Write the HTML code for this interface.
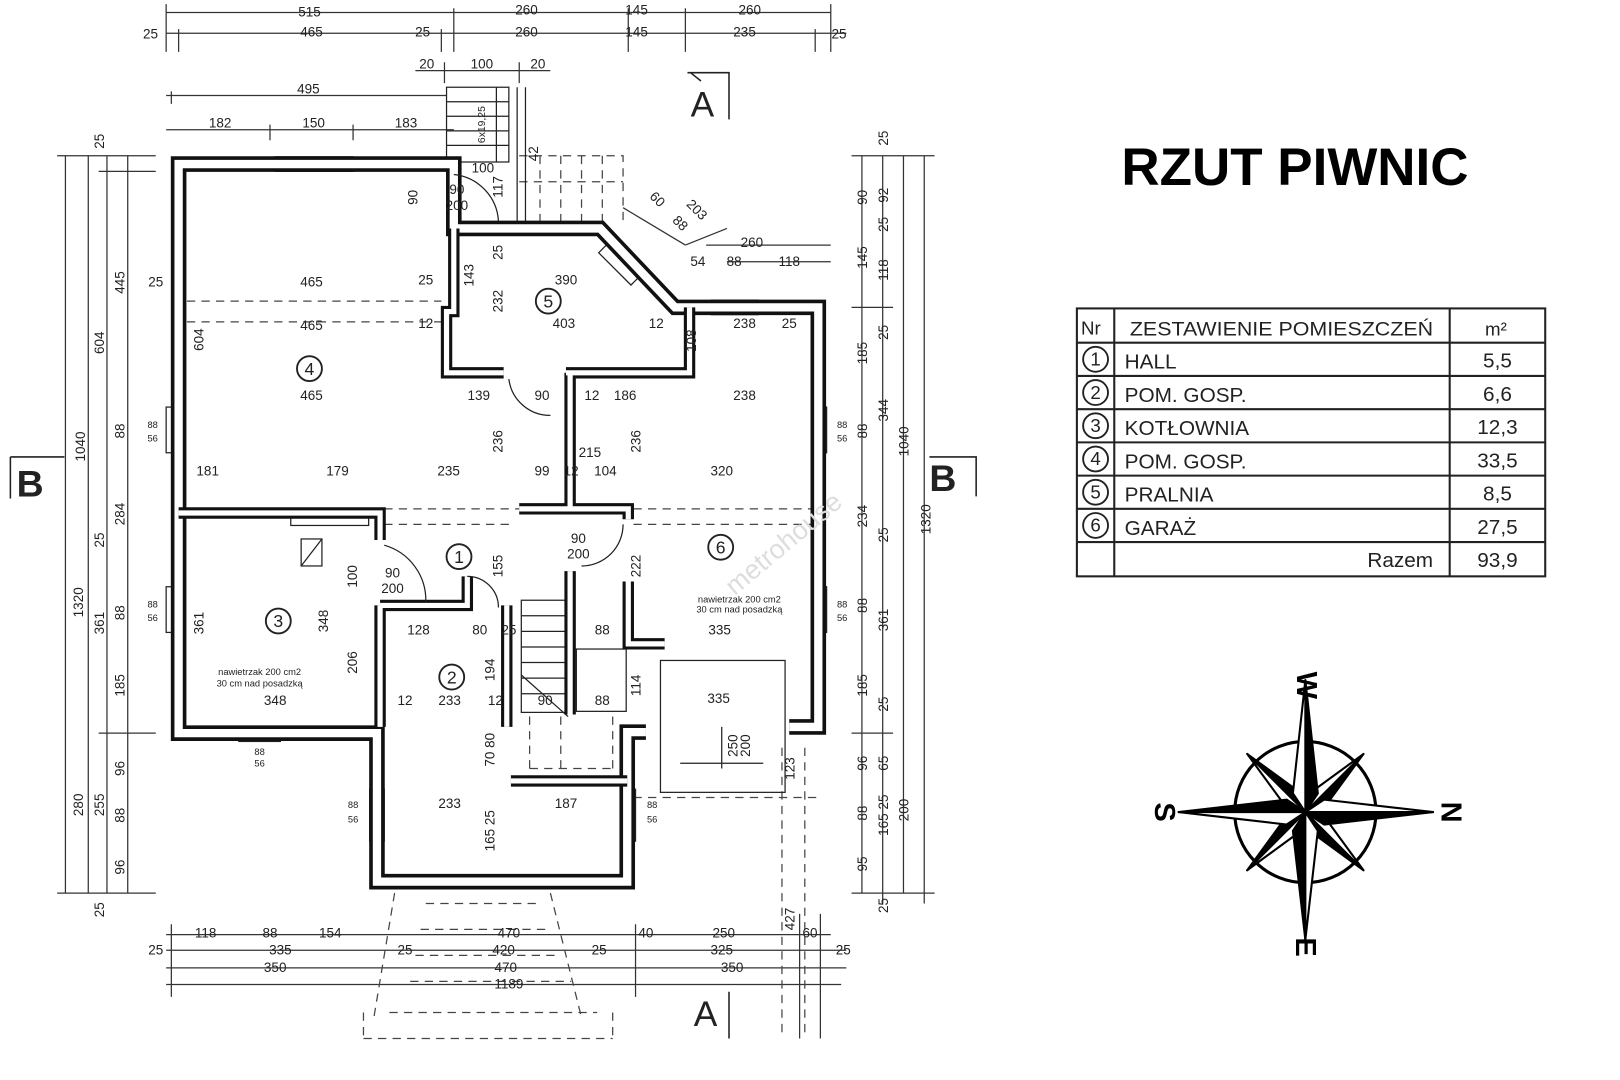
<!DOCTYPE html>
<html><head><meta charset="utf-8"><style>
html,body{margin:0;padding:0;background:#fff;}
svg{display:block;}
text{font-family:"Liberation Sans","DejaVu Sans",sans-serif;fill:#222;}
.d{font-size:13px;}
.s{font-size:9px;}
</style></head><body>
<svg width="1620" height="1080" viewBox="0 0 1560 1040" preserveAspectRatio="none" xmlns="http://www.w3.org/2000/svg">
<rect width="1560" height="1040" fill="#fff"/>
<defs>
<path id="outer" d="M760,700 H788 V296 H650 L578,220 H437 V158 H172 V706 H363 V849 H604 V705 H622"/>
<path id="inner" d="M437,220 V300 H430 V359 H485 M545,359 H664 V296 M549,359 V490 M500,490 H605 V500 M172,494 H366 V520 M366,583 V700 M366,583 H450 V555 M488,583 V700 M549,550 V688 M492,752 H604 M605,560 V620 H640"/>
</defs>
<g stroke="#333" stroke-width="1.2" fill="none">
<path d="M160,12 H800 M160,32 H815 M160,4 V50 M437,8 V50 M605,8 V50 M660,8 V50 M800,4 V50 M172,28 V50 M425,28 V50 M785,28 V50"/>
<path d="M400,68 H530 M428,60 V80 M500,60 V80 M160,92 H430 M160,125 H437 M165,88 V100 M260,120 V135 M340,120 V135"/>
<path d="M63,150 V860 M85,150 V860 M103,150 V860 M123,150 V860 M55,150 H150 M55,860 H150 M95,165 H150 M95,706 H150"/>
<path d="M830,150 V860 M850,150 V870 M870,150 V860 M890,150 V870 M820,150 H900 M820,860 H900 M820,296 H860 M820,706 H860"/>
<path d="M160,900 H800 M160,915 H815 M160,932 H815 M160,948 H810 M165,890 V960 M612,890 V960 M790,880 V1000 M770,880 V1000"/>
<path d="M600,200 L660,236 M660,236 L700,220 M680,236 H800 M700,252 H800" />
</g>
<g stroke="#444" stroke-width="1.2" fill="none" stroke-dasharray="8,6">
<path d="M180,290 H425 M180,310 H425 M370,490 H500 M610,490 H790 M370,505 H490 M610,505 H790 M610,768 H790"/>
<path d="M500,150 H600 V213 M520,150 V213 M540,150 V213 M560,150 V213 M580,150 V213 M500,175 H600"/>
<path d="M410,870 H520 M405,895 H530 M400,920 H540 M395,945 H550 M375,975 H575 M350,1000 H590 M350,975 V1000 M590,975 V1000 M380,860 L360,980 M530,860 L560,980 M753,720 V1000 M775,720 V1000"/>
<path d="M510,690 V740 M540,690 V740 M510,740 H590 M590,690 V740"/>
</g>
<g stroke="#222" stroke-width="1.2" fill="none">
<rect x="430" y="84" width="60" height="72"/>
<path d="M430,98 H490 M430,112 H490 M430,126 H490 M430,140 H490 M478,84 V156 M498,84 V213 M506,84 V213"/>
<rect x="502" y="578" width="45" height="108"/>
<path d="M502,593 H547 M502,608 H547 M502,623 H547 M502,638 H547 M502,653 H547 M502,668 H547 M502,650 L547,690"/>
<rect x="555" y="625" width="48" height="60"/>
<rect x="636" y="636" width="120" height="127"/>
<path d="M655,735 H735 M695,700 V740"/>
<rect x="280" y="492" width="75" height="14"/>
<rect x="290" y="519" width="20" height="26"/>
<path d="M290,545 L310,519"/>
</g>
<g fill="#fff" stroke="#222" stroke-width="1.2">
<rect x="265" y="151" width="75" height="14"/>
<rect x="685" y="289" width="45" height="14"/>
<rect x="160" y="392" width="14" height="44"/>
<rect x="160" y="565" width="14" height="44"/>
<rect x="230" y="700" width="40" height="14"/>
<rect x="782" y="392" width="14" height="44"/>
<rect x="782" y="565" width="14" height="44"/>
<rect x="356" y="760" width="14" height="50"/>
<rect x="598" y="760" width="14" height="50"/>
<rect x="590" y="232" width="14" height="44" transform="rotate(-45 597 254)"/>
</g>
<use href="#outer" fill="none" stroke="#111" stroke-width="15"/>
<use href="#outer" fill="none" stroke="#fff" stroke-width="8"/>
<use href="#inner" fill="none" stroke="#111" stroke-width="11"/>
<use href="#inner" fill="none" stroke="#fff" stroke-width="5"/>
<g stroke="#222" stroke-width="1.2" fill="none">
<path d="M437,168 A48,48 0 0 1 480,213"/>
<path d="M370,525 A55,55 0 0 1 410,580"/>
<path d="M450,555 A30,30 0 0 1 480,585"/>
<path d="M490,365 A40,40 0 0 0 530,400"/>
<path d="M560,545 A40,40 0 0 0 600,505"/>
</g>
<g fill="none" stroke="#222" stroke-width="1.8">
<circle cx="442" cy="536" r="12"/><circle cx="435" cy="652" r="12"/><circle cx="268" cy="598" r="12"/>
<circle cx="298" cy="355" r="12"/><circle cx="528" cy="290" r="12"/><circle cx="694" cy="527" r="12"/>
</g>
<g font-size="17" text-anchor="middle">
<text x="442" y="542">1</text><text x="435" y="658">2</text><text x="268" y="604">3</text>
<text x="298" y="361">4</text><text x="528" y="296">5</text><text x="694" y="533">6</text>
</g>
<g class="d" text-anchor="middle">
<text x="298" y="16">515</text><text x="507" y="14">260</text><text x="613" y="14">145</text><text x="722" y="14">260</text>
<text x="145" y="37">25</text><text x="300" y="35">465</text><text x="407" y="35">25</text><text x="507" y="35">260</text><text x="613" y="35">145</text><text x="717" y="35">235</text><text x="808" y="37">25</text>
<text x="411" y="66">20</text><text x="464" y="66">100</text><text x="518" y="66">20</text>
<text x="297" y="90">495</text><text x="212" y="123">182</text><text x="302" y="123">150</text><text x="391" y="123">183</text>
<text x="465" y="166">100</text><text x="440" y="187">90</text><text x="440" y="202">200</text>
<text x="300" y="276">465</text><text x="300" y="318">465</text><text x="300" y="385">465</text>
<text x="545" y="274">390</text><text x="543" y="316">403</text><text x="410" y="316">12</text><text x="632" y="316">12</text>
<text x="717" y="316">238</text><text x="760" y="316">25</text><text x="724" y="238">260</text><text x="760" y="256">118</text><text x="707" y="256">88</text><text x="672" y="256">54</text>
<text x="461" y="385">139</text><text x="522" y="385">90</text><text x="570" y="385">12</text><text x="602" y="385">186</text><text x="717" y="385">238</text>
<text x="150" y="276">25</text><text x="410" y="274">25</text>
<text x="200" y="458">181</text><text x="325" y="458">179</text><text x="432" y="458">235</text><text x="522" y="458">99</text><text x="550" y="458">12</text><text x="583" y="458">104</text><text x="695" y="458">320</text><text x="568" y="440">215</text>
<text x="378" y="556">90</text><text x="378" y="571">200</text><text x="557" y="523">90</text><text x="557" y="538">200</text>
<text x="403" y="611">128</text><text x="462" y="611">80</text><text x="490" y="611">25</text><text x="580" y="611">88</text><text x="693" y="611">335</text>
<text x="265" y="679">348</text><text x="390" y="679">12</text><text x="433" y="679">233</text><text x="477" y="679">12</text><text x="525" y="679">90</text><text x="580" y="679">88</text><text x="692" y="677">335</text>
<text x="433" y="778">233</text><text x="545" y="778">187</text>
<text x="198" y="903">118</text><text x="260" y="903">88</text><text x="318" y="903">154</text><text x="490" y="903">470</text><text x="622" y="903">40</text><text x="697" y="903">250</text><text x="780" y="903">60</text>
<text x="150" y="919">25</text><text x="270" y="919">335</text><text x="390" y="919">25</text><text x="485" y="919">420</text><text x="577" y="919">25</text><text x="695" y="919">325</text><text x="812" y="919">25</text>
<text x="265" y="936">350</text><text x="487" y="936">470</text><text x="705" y="936">350</text>
<text x="490" y="952">1189</text>
</g>
<g class="s" text-anchor="middle">
<text x="147" y="412">88</text><text x="147" y="425">56</text><text x="147" y="585">88</text><text x="147" y="598">56</text>
<text x="811" y="412">88</text><text x="811" y="425">56</text><text x="811" y="585">88</text><text x="811" y="598">56</text>
<text x="250" y="727">88</text><text x="250" y="738">56</text><text x="340" y="778">88</text><text x="340" y="792">56</text>
<text x="628" y="778">88</text><text x="628" y="792">56</text>
<text x="250" y="650">nawietrzak 200 cm2</text><text x="250" y="661">30 cm nad posadzką</text>
<text x="712" y="580">nawietrzak 200 cm2</text><text x="712" y="590">30 cm nad posadzką</text>
</g>
<g class="d" text-anchor="middle">
<text transform="translate(80,580) rotate(-90)">1320</text>
<text transform="translate(82,430) rotate(-90)">1040</text>
<text transform="translate(100,330) rotate(-90)">604</text>
<text transform="translate(120,272) rotate(-90)">445</text>
<text transform="translate(120,415) rotate(-90)">88</text>
<text transform="translate(120,495) rotate(-90)">284</text>
<text transform="translate(100,520) rotate(-90)">25</text>
<text transform="translate(100,600) rotate(-90)">361</text>
<text transform="translate(120,590) rotate(-90)">88</text>
<text transform="translate(120,660) rotate(-90)">185</text>
<text transform="translate(120,740) rotate(-90)">96</text>
<text transform="translate(100,775) rotate(-90)">255</text>
<text transform="translate(80,775) rotate(-90)">280</text>
<text transform="translate(120,785) rotate(-90)">88</text>
<text transform="translate(120,835) rotate(-90)">96</text>
<text transform="translate(100,876) rotate(-90)">25</text>
<text transform="translate(100,136) rotate(-90)">25</text>
<text transform="translate(196,327) rotate(-90)">604</text>
<text transform="translate(196,600) rotate(-90)">361</text>
<text transform="translate(316,598) rotate(-90)">348</text>
<text transform="translate(344,638) rotate(-90)">206</text>
<text transform="translate(344,555) rotate(-90)">100</text>
<text transform="translate(484,425) rotate(-90)">236</text>
<text transform="translate(484,290) rotate(-90)">232</text>
<text transform="translate(484,243) rotate(-90)">25</text>
<text transform="translate(456,265) rotate(-90)">143</text>
<text transform="translate(402,190) rotate(-90)">90</text>
<text transform="translate(484,180) rotate(-90)">117</text>
<text transform="translate(518,148) rotate(-90)">42</text>
<text transform="translate(484,545) rotate(-90)">155</text>
<text transform="translate(476,645) rotate(-90)">194</text>
<text transform="translate(476,722) rotate(-90)">70 80</text>
<text transform="translate(476,800) rotate(-90)">165 25</text>
<text transform="translate(617,425) rotate(-90)">236</text>
<text transform="translate(617,545) rotate(-90)">222</text>
<text transform="translate(617,660) rotate(-90)">114</text>
<text transform="translate(670,328) rotate(-90)">108</text>
<text transform="translate(765,740) rotate(-90)">123</text>
<text transform="translate(710,718) rotate(-90)">250</text>
<text transform="translate(722,718) rotate(-90)">200</text>
<text transform="translate(835,190) rotate(-90)">90</text>
<text transform="translate(855,188) rotate(-90)">92</text>
<text transform="translate(855,133) rotate(-90)">25</text>
<text transform="translate(855,216) rotate(-90)">25</text>
<text transform="translate(835,248) rotate(-90)">145</text>
<text transform="translate(855,260) rotate(-90)">118</text>
<text transform="translate(855,320) rotate(-90)">25</text>
<text transform="translate(835,340) rotate(-90)">185</text>
<text transform="translate(855,395) rotate(-90)">344</text>
<text transform="translate(875,425) rotate(-90)">1040</text>
<text transform="translate(896,500) rotate(-90)">1320</text>
<text transform="translate(835,415) rotate(-90)">88</text>
<text transform="translate(835,497) rotate(-90)">234</text>
<text transform="translate(855,515) rotate(-90)">25</text>
<text transform="translate(835,583) rotate(-90)">88</text>
<text transform="translate(855,597) rotate(-90)">361</text>
<text transform="translate(835,660) rotate(-90)">185</text>
<text transform="translate(855,678) rotate(-90)">25</text>
<text transform="translate(835,735) rotate(-90)">96</text>
<text transform="translate(855,735) rotate(-90)">65</text>
<text transform="translate(875,780) rotate(-90)">200</text>
<text transform="translate(835,783) rotate(-90)">88</text>
<text transform="translate(855,785) rotate(-90)">165 25</text>
<text transform="translate(835,832) rotate(-90)">95</text>
<text transform="translate(855,872) rotate(-90)">25</text>
<text transform="translate(765,885) rotate(-90)">427</text>
<text transform="translate(630,195) rotate(45)">60</text>
<text transform="translate(652,218) rotate(45)">88</text>
<text transform="translate(668,205) rotate(45)">203</text>
<text transform="translate(467,120) rotate(-90)" font-size="10">6x19,25</text>
</g>
<g>
<text x="665" y="112" font-size="34" font-family="Liberation Serif,serif">A</text>
<text x="668" y="988" font-size="34" font-family="Liberation Serif,serif">A</text>
<text x="16" y="478" font-size="36" font-weight="bold" font-family="Liberation Serif,serif">B</text>
<text x="895" y="473" font-size="36" font-weight="bold" font-family="Liberation Serif,serif">B</text>
</g>
<g stroke="#222" stroke-width="1.5" fill="none">
<path d="M662,70 H702 V115 M665,70 L675,78 M702,955 V1000 M10,440 H62 M10,440 V480 M895,440 H940 V478"/>
</g>
<text x="1247" y="178" text-anchor="middle" font-size="51" font-weight="bold" style="fill:#000">RZUT PIWNIC</text>
<g stroke="#222" stroke-width="2" fill="none">
<rect x="1037" y="297" width="451" height="258"/>
<path d="M1073,297 V555 M1396,297 V555 M1037,330 H1488 M1037,362 H1488 M1037,394 H1488 M1037,426 H1488 M1037,458 H1488 M1037,490 H1488 M1037,522 H1488"/>
</g>
<g font-size="20" fill="#222">
<text x="1041" y="322" font-size="18">Nr</text>
<text x="1088" y="323" font-size="19" textLength="292" lengthAdjust="spacingAndGlyphs">ZESTAWIENIE POMIESZCZEŃ</text>
<text x="1430" y="323" font-size="18">m²</text>
<text x="1083" y="355">HALL</text><text x="1083" y="387">POM. GOSP.</text><text x="1083" y="419">KOTŁOWNIA</text>
<text x="1083" y="451">POM. GOSP.</text><text x="1083" y="483">PRALNIA</text><text x="1083" y="515">GARAŻ</text>
<text x="1380" y="546" text-anchor="end">Razem</text>
<g text-anchor="middle"><text x="1442" y="354">5,5</text><text x="1442" y="386">6,6</text><text x="1442" y="418">12,3</text><text x="1442" y="450">33,5</text><text x="1442" y="482">8,5</text><text x="1442" y="514">27,5</text><text x="1442" y="546">93,9</text></g>
</g>
<g fill="none" stroke="#222" stroke-width="1.8">
<circle cx="1055" cy="346" r="12"/><circle cx="1055" cy="378" r="12"/><circle cx="1055" cy="410" r="12"/><circle cx="1055" cy="442" r="12"/><circle cx="1055" cy="474" r="12"/><circle cx="1055" cy="506" r="12"/>
</g>
<g font-size="18" text-anchor="middle">
<text x="1055" y="352">1</text><text x="1055" y="384">2</text><text x="1055" y="416">3</text><text x="1055" y="448">4</text><text x="1055" y="480">5</text><text x="1055" y="512">6</text>
</g>
<g stroke="#000" stroke-width="2" stroke-linejoin="round">
<circle cx="1257" cy="782" r="68" fill="none" stroke-width="3"/>
<polygon points="1313,726 1275,778 1257,782" fill="#000"/><polygon points="1313,726 1261,764 1257,782" fill="#fff"/>
<polygon points="1313,838 1261,800 1257,782" fill="#000"/><polygon points="1313,838 1275,786 1257,782" fill="#fff"/>
<polygon points="1201,838 1239,786 1257,782" fill="#000"/><polygon points="1201,838 1253,800 1257,782" fill="#fff"/>
<polygon points="1201,726 1253,764 1257,782" fill="#000"/><polygon points="1201,726 1239,778 1257,782" fill="#fff"/>
<polygon points="1257,655 1269,764 1257,782" fill="#000"/><polygon points="1257,655 1245,764 1257,782" fill="#fff"/>
<polygon points="1380,782 1275,794 1257,782" fill="#000"/><polygon points="1380,782 1275,770 1257,782" fill="#fff"/>
<polygon points="1257,905 1245,800 1257,782" fill="#000"/><polygon points="1257,905 1269,800 1257,782" fill="#fff"/>
<polygon points="1135,782 1239,770 1257,782" fill="#000"/><polygon points="1135,782 1239,794 1257,782" fill="#fff"/>
</g>
<g font-family="Liberation Serif,serif" font-size="28" font-weight="bold" text-anchor="middle">
<text transform="translate(1249,660) rotate(90)" style="fill:#000">W</text>
<text transform="translate(1388,782) rotate(90)" style="fill:#000">N</text>
<text transform="translate(1112,782) rotate(90)" style="fill:#000">S</text>
<text transform="translate(1248,912) rotate(90)" style="fill:#000">E</text>
</g>
<text x="760" y="530" font-size="26" transform="rotate(-40 760 530)" text-anchor="middle" style="fill:#ddd">metrohouse</text>
</svg>
</body></html>
